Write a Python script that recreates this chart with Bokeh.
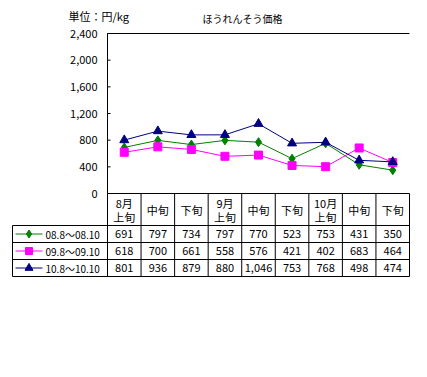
from bokeh.plotting import figure
from bokeh.models import Range1d
from bokeh.core.properties import value
from bokeh.embed import file_html
from bokeh.resources import INLINE

# ---- data ----
title = "ほうれんそう価格"
unit = "単位：円/kg"
periods = ["8月\n上旬", "中旬", "下旬", "9月\n上旬", "中旬", "下旬", "10月\n上旬", "中旬", "下旬"]
series_names = ["08.8～08.10", "09.8～09.10", "10.8～10.10"]
s_2008 = [691, 797, 734, 797, 770, 523, 753, 431, 350]
s_2009 = [618, 700, 661, 558, 576, 421, 402, 683, 464]
s_2010 = [801, 936, 879, 880, 1046, 753, 768, 498, 474]
y_ticks = [0, 400, 800, 1200, 1600, 2000, 2400]

series = [s_2008, s_2009, s_2010]
colors = ["#008000", "#FF00FF", "#000080"]
markers = ["diamond", "square", "triangle"]
msizes = [9, 8, 9]

FONT = value("Noto Sans CJK JP")
FS = "10px"

# ---- geometry (page pixels) ----
ORIG = 0                 # page offset of the canvas
W, H = 420, 365
PX = 302 / 9.0           # px per period column
X0 = 107                 # page x of the y axis / first column
Y0 = 193                 # page y of value 0
YTOP = 33                # page y of value 2400
PPU = (Y0 - YTOP) / 2400.0  # px per yen

def ux(px):  # page x -> column units
    return (px - X0) / PX

p = figure(width=W, height=H, output_backend="svg", toolbar_location=None,
           x_axis_location=None, y_axis_location=None,
           x_range=Range1d(ux(ORIG), ux(ORIG + W)),
           y_range=Range1d(-(ORIG + H - Y0), Y0 - ORIG),
           min_border_left=0, min_border_right=0, min_border_top=0, min_border_bottom=0)
p.extra_y_ranges = {"price": Range1d(-(ORIG + H - Y0) / PPU, (Y0 - ORIG) / PPU)}
p.grid.visible = False
p.outline_line_color = None
p.background_fill_color = "white"
p.border_fill_color = "white"

n = len(periods)
xs = [i + 0.5 for i in range(n)]

# ---- chart frame & y axis ----
ymax = y_ticks[-1]
p.segment(x0=[0, 0, 0], y0=[0, ymax, 0], x1=[0, n, n], y1=[ymax, ymax, 0],
          line_color="black", line_width=1, y_range_name="price")
tick_len = 3 / PX
p.segment(x0=[0] * len(y_ticks), y0=y_ticks, x1=[tick_len] * len(y_ticks), y1=y_ticks,
          line_color="black", line_width=1, y_range_name="price")
p.text(x=[ux(X0 - 10)] * len(y_ticks), y=y_ticks, text=[f"{t:,}" for t in y_ticks],
       text_align="right", text_baseline="middle", text_font=FONT, text_font_size="11px",
       text_color="black", y_range_name="price")

for s, c, m, sz in zip(series, colors, markers, msizes):
    p.line(xs, s, line_color=c, line_width=1, y_range_name="price")
    p.scatter(xs, s, marker=m, size=sz, fill_color=c, line_color=c, y_range_name="price")

p.text(x=[ux(242)], y=[Y0 - 18], text=[title], text_align="center", text_baseline="middle",
       text_font=FONT, text_font_size=FS, text_color="black")
p.text(x=[ux(68)], y=[Y0 - 15], text=[unit], text_align="left", text_baseline="middle",
       text_font=FONT, text_font_size="11px", text_color="black")

# ---- table ----
header_h = 32
row_h = 17
row_lines = [-(header_h + k * row_h) for k in range(len(series) + 1)]
bottom = row_lines[-1]
leg_left = ux(12)
p.segment(x0=[leg_left] * len(row_lines), y0=row_lines, x1=[n] * len(row_lines), y1=row_lines,
          line_color="black", line_width=1)
vx = list(range(n + 1))
p.segment(x0=vx, y0=[0] * len(vx), x1=vx, y1=[bottom] * len(vx), line_color="black", line_width=1)
p.segment(x0=[leg_left], y0=[row_lines[0]], x1=[leg_left], y1=[bottom], line_color="black",
          line_width=1)

# header labels: one line centred, two lines split around the centre
hx, hy, ht = [], [], []
for x, lab in zip(xs, periods):
    parts = lab.split("\n")
    if len(parts) == 1:
        hx.append(x); hy.append(-header_h / 2); ht.append(parts[0])
    else:
        hx += [x, x]; hy += [-header_h / 2 + 7, -header_h / 2 - 7]; ht += parts
p.text(x=hx, y=hy, text=ht, text_align="center", text_baseline="middle",
       text_font=FONT, text_font_size="11px", text_color="black")

for k, (s, c, m, sz, name) in enumerate(zip(series, colors, markers, msizes, series_names)):
    yc = row_lines[k] - row_h / 2
    p.text(x=xs, y=[yc] * n, text=[f"{v:,}" for v in s], text_align="center",
           text_baseline="middle", text_font=FONT, text_font_size="11px", text_color="black")
    lx0, lx1 = ux(15), ux(42)
    p.line([lx0, lx1], [yc, yc], line_color=c, line_width=1)
    p.scatter([(lx0 + lx1) / 2], [yc], marker=m, size=sz - 1, fill_color=c, line_color=c)
    p.text(x=[ux(45)], y=[yc], text=[name], text_align="left", text_baseline="middle",
           text_font=FONT, text_font_size="10px", text_color="black")

open("out.html", "w").write(file_html(p, INLINE))
